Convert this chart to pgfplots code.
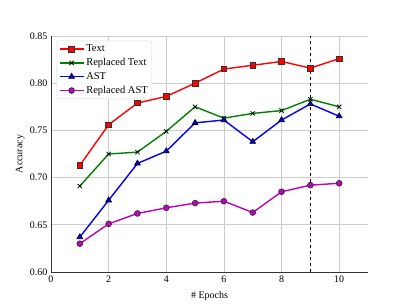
\documentclass[border=0pt]{standalone}
\usepackage{pgfplots}
\pgfplotsset{compat=1.18}
\usepackage{fontspec}
\setmainfont{Liberation Serif}
\definecolor{mgreen}{rgb}{0,0.5,0}
\definecolor{mmag}{rgb}{0.75,0,0.75}
\begin{document}
\begin{tikzpicture}[x=1pt,y=1pt]
\path[use as bounding box] (-51,-34) rectangle (358,272);
\begin{axis}[
  at={(0,0)}, anchor=south west,
  scale only axis, width=317pt, height=236pt,
  xmin=0, xmax=11, ymin=0.60, ymax=0.85,
  xtick={0,2,4,6,8,10},
  ytick={0.60,0.65,0.70,0.75,0.80,0.85},
  yticklabel style={/pgf/number format/.cd, fixed, fixed zerofill, precision=2},
  /pgf/number format/assume math mode=true,
  font=\fontsize{10}{12}\selectfont,
  ticklabel style={font=\fontsize{10}{12}\selectfont},
  major tick length=0pt,
  axis x line*=bottom, axis y line*=left,
  axis line style={black!80, line width=0.8pt, -},
  grid=major,
  major grid style={gray!40, line width=0.8pt},
  xlabel={\# Epochs}, ylabel={Accuracy},
  xlabel style={at={(axis description cs:0.5,0)}, anchor=north, yshift=-16pt},
  ylabel style={at={(axis description cs:0,0.5)}, anchor=south, yshift=23pt},
  legend cell align=left,
  legend style={draw=gray!30, rounded corners=2pt, font=\fontsize{10.5}{12}\selectfont, row sep=1.2pt, inner sep=2pt, at={(0.018,0.98)}, anchor=north west},
  legend image code/.code={\draw[#1] (0pt,0pt) -- (12pt,0pt) (24pt,0pt) -- (12pt,0pt); \draw[#1, mark repeat=1] plot coordinates {(12pt,0pt)};},
  every axis plot/.append style={line width=1.4pt, mark size=3pt},
]
\draw[black, dashed, line width=0.8pt] (axis cs:9,0.60) -- (axis cs:9,0.85);
\addplot[red, mark=square*, mark options={fill=red, draw=black!80, line width=0.7pt, mark size=2.8pt}] coordinates {
(1,0.713) (2,0.756) (3,0.779) (4,0.786) (5,0.800) (6,0.815) (7,0.819) (8,0.823) (9,0.816) (10,0.826)};
\addlegendentry{Text}
\addplot[mgreen, mark=x, mark options={draw=black, line width=0.8pt, mark size=3pt}] coordinates {
(1,0.691) (2,0.725) (3,0.727) (4,0.749) (5,0.775) (6,0.763) (7,0.768) (8,0.771) (9,0.783) (10,0.775)};
\addlegendentry{Replaced Text}
\addplot[blue, mark=triangle*, mark options={fill=blue, draw=black, line width=0.7pt, mark size=3.3pt}] coordinates {
(1,0.637) (2,0.676) (3,0.715) (4,0.728) (5,0.758) (6,0.761) (7,0.738) (8,0.761) (9,0.778) (10,0.765)};
\addlegendentry{AST}
\addplot[mmag, mark=*, mark options={fill=mmag, draw=black!80, line width=0.7pt, mark size=2.9pt}] coordinates {
(1,0.630) (2,0.651) (3,0.662) (4,0.668) (5,0.673) (6,0.675) (7,0.663) (8,0.685) (9,0.692) (10,0.694)};
\addlegendentry{Replaced AST}
\end{axis}
\end{tikzpicture}
\end{document}
